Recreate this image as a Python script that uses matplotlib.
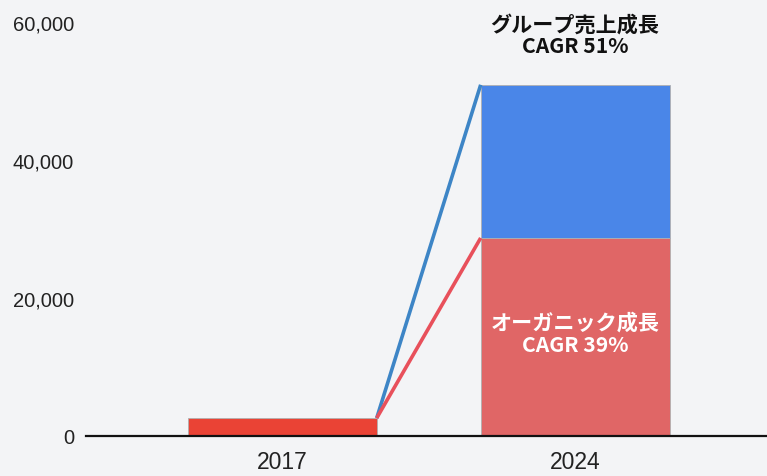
import matplotlib
matplotlib.use("Agg")
import matplotlib.pyplot as plt

years = ["2017", "2024"]
organic = [2600, 28700]
acquired = [0, 22200]
yticks = [0, 20000, 40000, 60000]
ytick_labels = ["0", "20,000", "40,000", "60,000"]
group_label = "グループ売上成長\nCAGR 51%"
organic_label = "オーガニック成長\nCAGR 39%"

bg = "#f3f4f6"
W, H = 767, 477
fig = plt.figure(figsize=(W / 100, H / 100), dpi=100, facecolor=bg)
ax = fig.add_axes([86 / W, 40 / H, (W - 86) / W, (437 - 23) / H], facecolor=bg)

x = [0, 1]
bw = 0.645
ax.bar(x[0], organic[0], width=bw, color="#ea4335", edgecolor="#b0b0b0", linewidth=0.6, zorder=2)
ax.bar(x[1], organic[1], width=bw, color="#e06666", edgecolor="#b0b0b0", linewidth=0.6, zorder=2)
ax.bar(x[1], acquired[1], bottom=organic[1], width=bw, color="#4a86e8", edgecolor="#b0b0b0", linewidth=0.6, zorder=2)

total = [organic[i] + acquired[i] for i in range(2)]
ax.plot([x[0] + bw / 2, x[1] - bw / 2], [total[0], total[1]], color="#3d85c6", lw=2.6, zorder=3, solid_capstyle="butt")
ax.plot([x[0] + bw / 2, x[1] - bw / 2], [organic[0], organic[1]], color="#e8505b", lw=2.6, zorder=3, solid_capstyle="butt")

jp = ["Noto Sans CJK JP", "DejaVu Sans"]
ax.text(x[1], 58150, group_label, ha="center", va="center", fontsize=15.2, fontweight="bold",
        family=jp, color="#111111", clip_on=False, linespacing=1.08)
ax.text(x[1], 14950, organic_label, ha="center", va="center", fontsize=15.2, fontweight="bold",
        family=jp, color="white", linespacing=1.08, zorder=4)

ax.set_xlim(-0.67, 1.655)
ax.set_ylim(0, 60000)
ax.set_yticks(yticks)
ax.set_yticklabels(ytick_labels, family="Liberation Sans", fontsize=14.5, color="#222222")
ax.set_xticks(x)
ax.set_xticklabels(years, family="Liberation Sans", fontsize=16.5, color="#222222")
ax.tick_params(axis="both", length=0)
ax.tick_params(axis="y", pad=8.5)
ax.tick_params(axis="x", pad=10)
for s in ["top", "right", "left"]:
    ax.spines[s].set_visible(False)
ax.spines["bottom"].set_color("#111111")
ax.spines["bottom"].set_linewidth(1.6)
ax.spines["bottom"].set_zorder(5)

fig.savefig("out.png", dpi=100, facecolor=bg)
